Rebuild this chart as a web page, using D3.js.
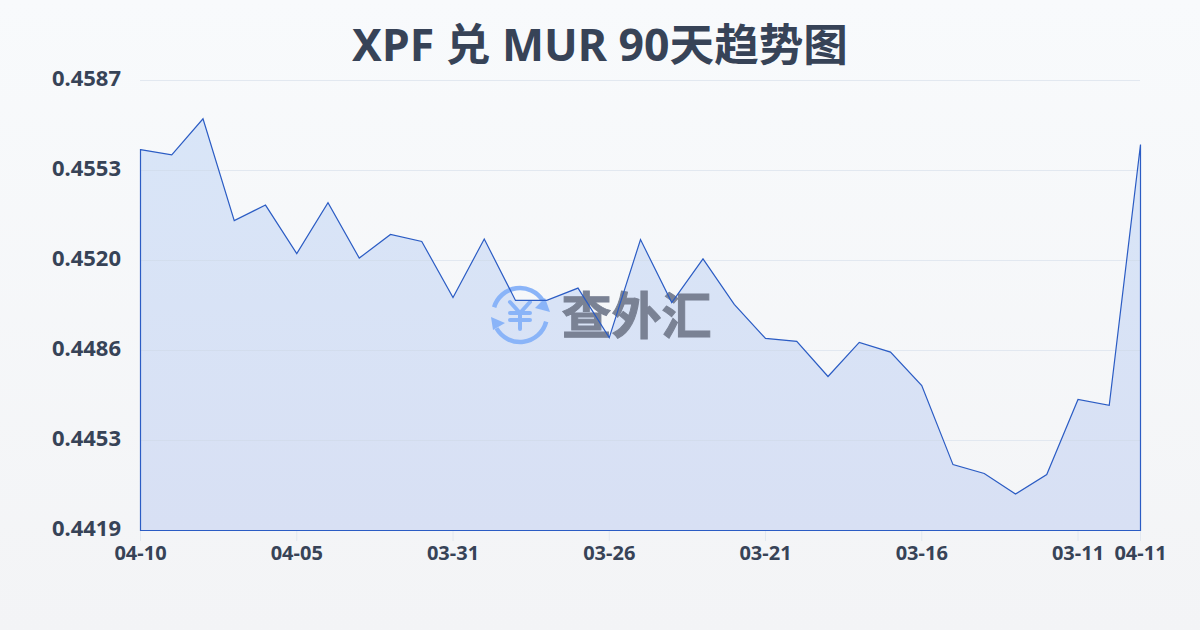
<!DOCTYPE html>
<html><head><meta charset="utf-8">
<script src="https://cdn.jsdelivr.net/npm/d3@7/dist/d3.min.js"></script>
<style>html,body{margin:0;padding:0;background:#f8fafc}svg{display:block}text{font-family:"Noto Sans","Noto Sans CJK SC",sans-serif}</style>
</head><body><svg id="c" width="1200" height="630"></svg>
<script>
const titleText = "XPF 兑 MUR 90天趋势图";
const dates = ["04-10","04-09","04-08","04-07","04-06","04-05","04-04","04-03","04-02","04-01","03-31","03-30","03-29","03-28","03-27","03-26","03-25","03-24","03-23","03-22","03-21","03-20","03-19","03-18","03-17","03-16","03-15","03-14","03-13","03-12","03-11","03-10","04-11"];
const rates = [.45612,.45592,.45727,.45347,.45405,.45224,.45414,.45207,.45295,.45269,.4506,.45278,.45049,.45049,.45095,.4491,.45276,.45041,.45204,.45034,.44907,.44896,.44765,.44892,.44856,.44731,.44436,.44403,.44326,.44399,.44679,.44657,.45631];
const yTicks = [.4419,.44526,.44862,.45198,.45534,.4587];
const xTicks = ["04-10","04-05","03-31","03-26","03-21","03-16","03-11","04-11"];
const yMin = .4419, yMax = .4587;

const svg = d3.select("#c");
const defs = svg.append("defs");
const bg = defs.append("linearGradient").attr("id","bg").attr("x1",0).attr("y1",0).attr("x2",0).attr("y2",1);
bg.append("stop").attr("offset",0).attr("stop-color","#f8fafc");
bg.append("stop").attr("offset",1).attr("stop-color","#f3f4f6");
const fg = defs.append("linearGradient").attr("id","fg").attr("gradientUnits","userSpaceOnUse").attr("x1",0).attr("y1",80).attr("x2",0).attr("y2",530);
fg.append("stop").attr("offset",0).attr("stop-color","#d9e6f8");
fg.append("stop").attr("offset",1).attr("stop-color","#d8e0f4");
svg.append("rect").attr("width",1200).attr("height",630).attr("fill","url(#bg)");

const x = d3.scalePoint().domain(d3.range(dates.length)).range([140.5,1140.5]);
const y = d3.scaleLinear().domain([yMin,yMax]).range([530.5,80.5]);

svg.append("g").selectAll("line").data(yTicks).join("line")
  .attr("x1",140).attr("x2",1140).attr("y1",d=>y(d)).attr("y2",d=>y(d))
  .attr("stroke","#e2e8f0").attr("stroke-width",1);

const area = d3.area().x((d,i)=>x(i)).y0(y(yMin)).y1(d=>y(d));
svg.append("path").datum(rates).attr("d",area).attr("fill","url(#fg)");

defs.append("clipPath").attr("id","areaClip").append("path").datum(rates).attr("d",area);
svg.append("g").attr("clip-path","url(#areaClip)").selectAll("line").data(yTicks).join("line")
  .attr("x1",140).attr("x2",1140).attr("y1",d=>y(d)).attr("y2",d=>y(d))
  .attr("stroke","#cbd5e1").attr("stroke-opacity",.4).attr("stroke-width",1);

const wm = svg.append("g");
const ic = wm.append("g").attr("transform","translate(520,315)").attr("fill","none").attr("stroke","#8ab4f8").attr("stroke-linecap","round");
const arc = d3.arc().innerRadius(27).outerRadius(27);
ic.append("path").attr("stroke-width",4.5).attr("d",arc({startAngle:-1.28,endAngle:1.0}));
ic.append("path").attr("stroke-width",4.5).attr("d",arc({startAngle:1.82,endAngle:4.2}));
ic.append("path").attr("fill","#8ab4f8").attr("stroke","none").attr("d","M25 -17 L30 -3 L15 -7 Z");
ic.append("path").attr("fill","#8ab4f8").attr("stroke","none").attr("d","M-29 2 L-15 8 L-27 15 Z");
ic.append("path").attr("stroke-width",4).attr("d","M-10 -13 L0 -2 L10 -13 M0 -2 L0 14 M-10 -2 L10 -2 M-10 5 L10 5");
wm.append("text").attr("x",636.5).attr("y",334).attr("text-anchor","middle").attr("font-size",50).attr("font-weight",700).attr("fill","#7a8294").attr("stroke","#7a8294").attr("stroke-width",1).text("查外汇");

svg.append("path").datum(rates).attr("d",area).attr("fill","none").attr("stroke","#2b5cc4").attr("stroke-width",1.2).attr("stroke-linejoin","miter");

const tickIdx = [0,5,10,15,20,25,30,32];
svg.append("g").selectAll("line").data(tickIdx).join("line")
  .attr("x1",i=>x(i)).attr("x2",i=>x(i)).attr("y1",531).attr("y2",541).attr("stroke","#e2e8f0");
svg.append("g").selectAll("text").data(tickIdx).join("text")
  .attr("x",i=>x(i)).attr("y",560).attr("text-anchor","middle").attr("font-size",20).attr("font-weight",700).attr("fill","#374357")
  .text((i,k)=>xTicks[k]);

svg.append("g").selectAll("text").data(yTicks).join("text")
  .attr("x",121).attr("y",d=>y(d)+5).attr("text-anchor","end").attr("font-size",22).attr("font-weight",700).attr("fill","#374357")
  .text(d=>d.toFixed(4));

svg.append("text").attr("x",600).attr("y",61).attr("text-anchor","middle").attr("font-size",44.6).attr("font-weight",700).attr("fill","#374357").text(titleText);
</script></body></html>
